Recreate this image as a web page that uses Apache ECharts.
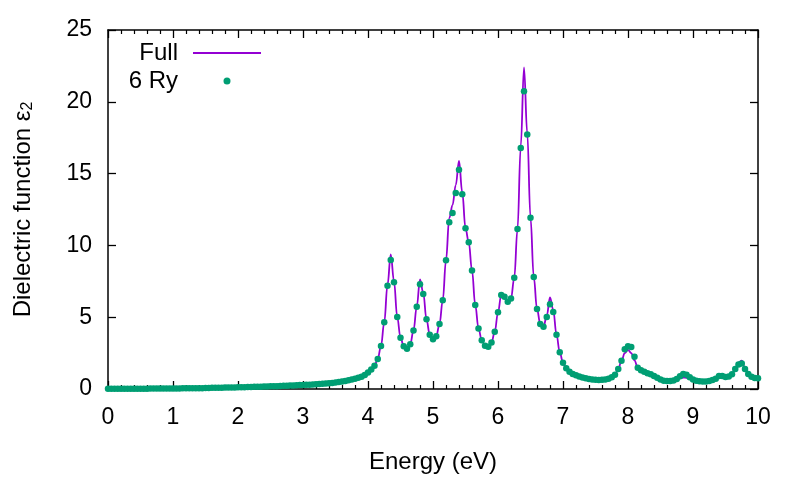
<!DOCTYPE html>
<html>
<head>
<meta charset="utf-8">
<script src="https://cdn.jsdelivr.net/npm/echarts@6/dist/echarts.min.js"></script>
<style>
html,body{margin:0;padding:0;background:#fff;}
#chart{width:800px;height:480px;}
</style>
</head>
<body>
<div id="chart"></div>
<script>
// "6 Ry" points, sampled every 0.05 eV from 0 to 10 eV
const energyStep = 0.05;
const ryValues = [
  0.01,0.01,0.01,0.01,0.01,0.01,0.02,0.02,0.02,0.02, 0.02,0.02,0.02,0.03,0.03,0.03,0.03,0.03,0.03,0.04,
  0.04,0.04,0.04,0.05,0.05,0.05,0.05,0.06,0.06,0.06, 0.07,0.07,0.08,0.08,0.09,0.09,0.10,0.10,0.11,0.11,
  0.12,0.12,0.13,0.14,0.14,0.15,0.16,0.16,0.17,0.18, 0.19,0.19,0.20,0.21,0.22,0.23,0.24,0.25,0.26,0.27,
  0.28,0.29,0.30,0.31,0.33,0.34,0.36,0.38,0.40,0.42, 0.45,0.48,0.52,0.56,0.61,0.66,0.72,0.78,0.86,0.98,
  1.15,1.35,1.62,2.09,3.00,4.64,7.19,8.98,7.43,5.01, 3.57,2.97,2.81,3.11,4.08,5.73,7.29,6.62,4.85,3.78,
  3.46,3.68,4.52,6.18,8.97,11.61,12.26,13.65,15.27,13.56, 11.19,10.22,8.26,5.85,4.22,3.39,3.02,2.95,3.23,3.99,
  5.34,6.55,6.43,6.07,6.30,7.74,11.14,16.78,20.73,17.73, 11.93,7.80,5.57,4.53,4.34,5.01,5.90,5.36,3.78,2.56,
  1.83,1.44,1.20,1.05,0.95,0.87,0.80,0.74,0.70,0.66, 0.64,0.63,0.64,0.67,0.72,0.82,1.00,1.39,1.97,2.76,
  2.97,2.92,2.25,1.48,1.30,1.20,1.10,1.02,0.90,0.78, 0.66,0.58,0.55,0.55,0.60,0.70,0.88,1.05,1.00,0.82,
  0.66,0.58,0.54,0.52,0.53,0.56,0.62,0.72,0.90,0.90, 0.84,0.87,1.02,1.40,1.70,1.78,1.40,1.05,0.85,0.76,
  0.74
];

// "Full" curve
const fullEnergy = [
  0,1,2,2.5,3,3.5,3.8,4.0,4.1,4.15,4.2,4.25,4.3,4.35,4.4,4.45,4.5,4.55,4.6,4.65,
  4.7,4.75,4.8,4.85,4.9,4.95,5.0,5.05,5.1,5.15,5.2,5.25,5.3,5.35,5.4,5.45,5.5,5.55,5.6,5.65,
  5.7,5.75,5.8,5.85,5.9,5.95,6.0,6.05,6.1,6.15,6.2,6.25,6.3,6.35,6.4,6.45,6.5,6.55,6.6,6.65,
  6.7,6.75,6.8,6.85,6.9,6.95,7.0,7.05,7.1,7.2,7.3,7.4,7.5,7.6,7.7,7.8,7.85,7.9,7.95,8.0,
  8.05,8.1,8.15,8.2,8.3,8.4,8.5,8.6,8.7,8.8,8.85,8.9,9.0,9.1,9.2,9.3,9.4,9.5,9.6,9.65,
  9.7,9.75,9.8,9.85,9.9,10
];
const fullValues = [
  0.01,0.04,0.12,0.19,0.28,0.45,0.72,1.15,1.62,2.09,3.00,4.64,7.25,9.38,7.50,5.00,3.57,2.97,2.81,3.11,
  4.08,5.73,7.64,6.70,4.85,3.78,3.46,3.68,4.52,6.18,8.97,11.90,12.80,14.20,15.88,13.70,11.19,10.22,8.26,5.85,
  4.22,3.39,3.02,2.95,3.23,3.99,5.34,6.55,6.43,6.07,6.30,7.74,11.14,16.90,22.40,17.80,11.93,7.80,5.57,4.53,
  4.34,5.10,6.38,5.50,3.78,2.56,1.83,1.44,1.20,0.95,0.80,0.70,0.64,0.64,0.72,1.00,1.39,1.97,2.50,2.72,
  2.50,2.00,1.48,1.30,1.10,0.90,0.66,0.55,0.60,0.75,0.80,0.78,0.62,0.54,0.53,0.62,0.85,0.84,1.00,1.45,
  1.85,1.97,1.45,1.05,0.85,0.74
];

const seriesNames = ['Full', '6 Ry'];
const xRange = [0, 10, 1];
const yRange = [0, 25, 5];
const xTitle = 'Energy (eV)';
const yTitle = 'Dielectric function ε{sub|2}';

const ryData = ryValues.map((v, i) => [+(i * energyStep).toFixed(2), v]);
const fullData = fullEnergy.map((e, i) => [e, fullValues[i]]);

const FONT = '"Liberation Sans", Arial, Helvetica, sans-serif';
const axisLineStyle = { color: '#000', width: 1.5 };

function xAx(pos, labels) {
  return {
    type: 'value', position: pos, min: xRange[0], max: xRange[1], interval: xRange[2],
    axisLine: { show: true, onZero: false, lineStyle: axisLineStyle },
    axisTick: { show: true, inside: true, length: 8, lineStyle: { color: '#000', width: 1.3 } },
    minorTick: { show: true, splitNumber: 5, length: 4, lineStyle: { color: '#000', width: 1.2 } },
    splitLine: { show: false },
    axisLabel: { show: labels, color: '#000', fontSize: 23, fontFamily: FONT, margin: 17 },
    name: labels ? xTitle : '', nameLocation: 'middle', nameGap: 61,
    nameTextStyle: { color: '#000', fontSize: 24, fontFamily: FONT }
  };
}
function yAx(pos, labels) {
  return {
    type: 'value', position: pos, min: yRange[0], max: yRange[1], interval: yRange[2],
    axisLine: { show: true, onZero: false, lineStyle: axisLineStyle },
    axisTick: { show: true, inside: true, length: 8, lineStyle: { color: '#000', width: 1.3 } },
    splitLine: { show: false },
    axisLabel: { show: labels, color: '#000', fontSize: 23, fontFamily: FONT, margin: 16 },
    name: labels ? yTitle : '', nameLocation: 'middle', nameGap: 72, nameRotate: 90,
    nameTextStyle: {
      color: '#000', fontSize: 24, fontFamily: FONT,
      rich: { sub: { fontSize: 16, fontFamily: FONT, color: '#000', padding: [10, 0, 0, 0] } }
    }
  };
}

const chart = echarts.init(document.getElementById('chart'), null, { renderer: 'canvas' });
chart.setOption({
  backgroundColor: '#fff',
  animation: false,
  grid: { left: 108, right: 42, top: 30, bottom: 91, containLabel: false },
  legend: {
    data: [
      { name: seriesNames[0], itemStyle: { opacity: 0 } },
      { name: seriesNames[1] }
    ],
    orient: 'vertical',
    align: 'right',
    left: 118, top: 41,
    padding: 0,
    itemGap: 4,
    itemWidth: 68,
    itemHeight: 7,
    textStyle: { color: '#000', fontSize: 24, fontFamily: FONT, width: 60, align: 'right', lineHeight: 24, padding: [0, 10, 0, 0] }
  },
  xAxis: [xAx('bottom', true), xAx('top', false)],
  yAxis: [yAx('left', true), yAx('right', false)],
  series: [
    {
      name: seriesNames[0], type: 'line', data: fullData, xAxisIndex: 0, yAxisIndex: 0,
      symbol: 'none', smooth: 0.4, smoothMonotone: 'x',
      lineStyle: { color: '#9400D3', width: 1.8 },
      itemStyle: { color: '#9400D3' }, z: 2
    },
    {
      name: seriesNames[1], type: 'scatter', data: ryData, xAxisIndex: 0, yAxisIndex: 0,
      symbol: 'circle', symbolSize: 6.5,
      itemStyle: { color: '#009E73', opacity: 1 }, z: 3
    }
  ]
});
</script>
</body>
</html>
